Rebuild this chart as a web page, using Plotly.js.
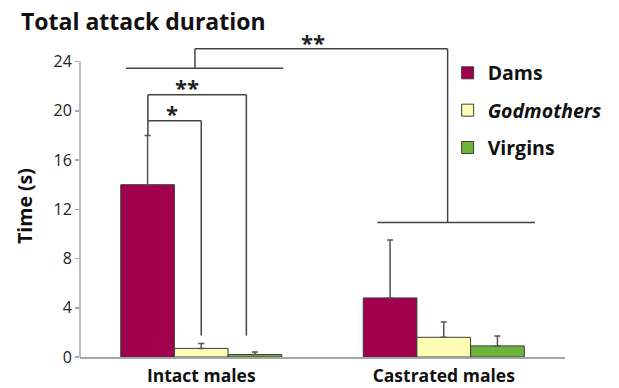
<!DOCTYPE html>
<html>
<head>
<meta charset="utf-8">
<script src="https://cdn.plot.ly/plotly-3.0.1.min.js"></script>
<style>html,body{margin:0;padding:0;background:#fff;}#chart{width:619px;height:388px;}</style>
</head>
<body>
<div id="chart"></div>
<script>
// ---- data ----
const categories = ["Intact males", "Castrated males"];
const seriesNames = ["Dams", "<i>Godmothers</i>", "Virgins"];
const damsValues = [14.0, 4.8];
const godmothersValues = [0.7, 1.6];
const virginsValues = [0.2, 0.9];
const damsErrors = [4.0, 4.7];
const godmothersErrors = [0.4, 1.25];
const virginsErrors = [0.2, 0.8];
const yTickValues = [0, 4, 8, 12, 16, 20, 24];
const titleText = "Total attack duration";
const yTitleText = "Time (s)";
const sigLabels = ["*", "**", "**"];

const colors = ["#a0004e", "#fdfdb4", "#6cb43a"];
const values = [damsValues, godmothersValues, virginsValues];
const errors = [damsErrors, godmothersErrors, virginsErrors];

const font = "'Open Sans', sans-serif";

const traces = values.map((v, i) => ({
  type: "bar",
  name: seriesNames[i],
  x: categories,
  y: v,
  legendgroup: "g" + i,
  marker: {color: colors[i], line: {color: "#3c3c3c", width: 1}},
  error_y: {
    type: "data", symmetric: false, array: errors[i],
    arrayminus: errors[i].map(() => 0),
    color: "#555", thickness: 1.5, width: 3
  },
  hoverinfo: "none"
}));

const lc = {color: "#444", width: 1.5};
function seg(x0, y0, x1, y1) {
  return {type: "line", xref: "x", yref: "y", x0, y0, x1, y1, line: lc};
}
const shapes = [
  // y axis line
  {type: "line", xref: "paper", yref: "y", x0: 0, x1: 0, y0: 0, y1: 24, line: {color: "#a6a6a6", width: 1.5}},
  // * bracket
  seg(-0.22, 19.2, 0.0, 19.2), seg(0.0, 19.2, 0.0, 1.74),
  // ** bracket
  seg(-0.22, 21.3, 0.186, 21.3), seg(0.186, 21.3, 0.186, 1.74), seg(-0.22, 21.3, -0.22, 18),
  // top bracket
  seg(-0.31, 23.47, 0.338, 23.47), seg(-0.026, 23.47, -0.026, 25.04),
  seg(-0.026, 25.04, 1.016, 25.04), seg(1.016, 25.04, 1.016, 10.93),
  seg(0.726, 10.93, 1.376, 10.93)
];

const annFont = {family: font, size: 22, color: "#222", weight: "bold"};
const annotations = [
  {xref: "x", yref: "y", x: -0.122, y: 19.85, text: sigLabels[0], showarrow: false, font: annFont},
  {xref: "x", yref: "y", x: -0.06, y: 21.95, text: sigLabels[1], showarrow: false, font: annFont},
  {xref: "x", yref: "y", x: 0.461, y: 25.62, text: sigLabels[2], showarrow: false, font: annFont},
  {xref: "paper", yref: "paper", x: -0.1134, y: 0.472, text: yTitleText, textangle: -90,
   showarrow: false, xanchor: "center", yanchor: "middle",
   font: {family: font, size: 19.5, weight: "bold", color: "#111"}}
];

const layout = {
  width: 619, height: 388,
  margin: {l: 80, r: 54, t: 37, b: 31},
  paper_bgcolor: "#fff", plot_bgcolor: "#fff",
  font: {family: font, color: "#222"},
  title: {
    text: titleText, xref: "container", yref: "container",
    x: 21 / 619, xanchor: "left", y: 1 - 22 / 388, yanchor: "middle",
    font: {family: font, size: 23, weight: "bold", color: "#111"}
  },
  barmode: "group", bargap: 0.336, bargroupgap: 0,
  xaxis: {
    type: "category", range: [-0.5, 1.5], showline: true, linecolor: "#a6a6a6", linewidth: 1.5,
    ticks: "", showgrid: false, zeroline: false, ticklabelstandoff: 2,
    tickfont: {family: font, size: 17.5, weight: "bold", color: "#111"}
  },
  yaxis: {
    range: [0, 26], tickvals: yTickValues, ticktext: yTickValues.map(String),
    showline: false, showgrid: false, zeroline: false,
    ticks: "outside", ticklen: 4, tickcolor: "#a6a6a6", tickwidth: 1.5,
    tickfont: {family: font, size: 16, color: "#222"}
  },
  showlegend: true,
  legend: {
    x: 0.758, xanchor: "left", y: 0.948, yanchor: "top",
    bgcolor: "rgba(0,0,0,0)", traceorder: "grouped", tracegroupgap: 9,
    font: {family: font, size: 19.5, weight: "bold", color: "#111"}
  },
  shapes: shapes,
  annotations: annotations
};

Plotly.newPlot("chart", traces, layout, {staticPlot: true, displayModeBar: false});
</script>
</body>
</html>
